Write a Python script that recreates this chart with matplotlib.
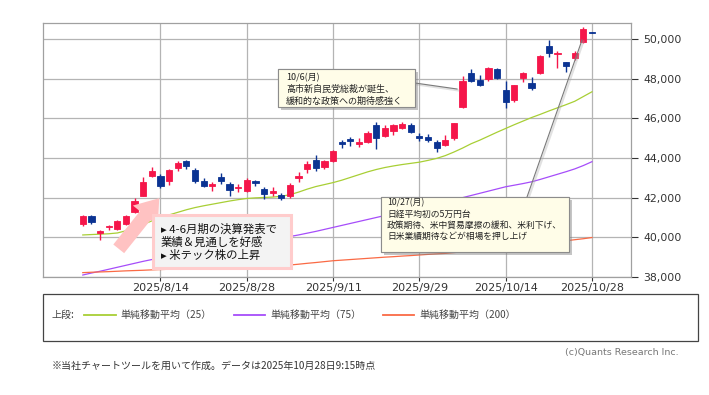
import matplotlib
matplotlib.use("Agg")
import matplotlib.pyplot as plt
from matplotlib.patches import Rectangle, FancyArrowPatch, ArrowStyle
from matplotlib.lines import Line2D
from matplotlib.ticker import FuncFormatter
import matplotlib.patheffects as pe

JP = ["Noto Sans CJK JP", "DejaVu Sans"]
plt.rcParams["font.family"] = ["DejaVu Sans", "Noto Sans CJK JP"]

# --- data ---
dates = ["7/31", "8/1", "8/4", "8/5", "8/6", "8/7", "8/8", "8/12", "8/13", "8/14",
         "8/15", "8/18", "8/19", "8/20", "8/21", "8/22", "8/25", "8/26", "8/27", "8/28",
         "8/29", "9/1", "9/2", "9/3", "9/4", "9/5", "9/8", "9/9", "9/10", "9/11",
         "9/12", "9/16", "9/17", "9/18", "9/19", "9/22", "9/24", "9/25", "9/26", "9/29",
         "9/30", "10/1", "10/2", "10/3", "10/6", "10/7", "10/8", "10/9", "10/10", "10/14",
         "10/15", "10/16", "10/17", "10/20", "10/21", "10/22", "10/23", "10/24", "10/27", "10/28"]
tick_dates = ["8/14", "8/28", "9/11", "9/29", "10/14", "10/28"]

opens = [40667, 41056, 40212, 40500, 40404, 40667, 41288, 42096, 43106, 43081,
         42823, 43495, 43864, 43409, 42823, 42601, 43025, 42687, 42470, 42318,
         42823, 42434, 42260, 42130, 42096, 42990, 43444, 43914, 43530, 43864,
         44803, 44954, 44717, 44813, 45658, 45116, 45370, 45490, 45658, 45100,
         45066, 44783, 44651, 44985, 46550, 48268, 47929, 47980, 48485, 47424,
         46919, 48015, 47793, 48268, 49646, 49227, 48823, 49025, 49865, 50330]
closes = [41086, 40783, 40328, 40580, 40823, 41086, 41843, 42772, 43359, 42592,
          43409, 43747, 43612, 42856, 42571, 42687, 42823, 42400, 42550, 42889,
          42722, 42182, 42340, 41965, 42636, 43076, 43697, 43480, 43864, 44369,
          44717, 44853, 44803, 45237, 45015, 45490, 45658, 45709, 45320, 45015,
          44900, 44480, 44904, 45743, 47878, 47880, 47677, 48552, 48015, 46834,
          47677, 48268, 47540, 49141, 49278, 49310, 48636, 49310, 50490, 50300]
highs = [41150, 41120, 40370, 40640, 40870, 41150, 41960, 43025, 43530, 43190,
         43440, 43860, 43900, 43480, 42970, 42770, 43225, 42770, 42690, 42970,
         42900, 42520, 42520, 42260, 42720, 43270, 43860, 44160, 43920, 44420,
         44910, 45040, 44990, 45380, 45830, 45660, 45710, 45830, 45760, 45250,
         45200, 44904, 45160, 45780, 48150, 48490, 48185, 48610, 48560, 47880,
         47700, 48350, 48090, 49210, 49950, 49390, 48850, 49400, 50590, 50330]
lows = [40560, 40660, 39870, 40370, 40370, 40640, 41210, 42090, 43030, 42470,
        42640, 43360, 43430, 42725, 42520, 42315, 42690, 42075, 42270, 42270,
        42570, 41930, 42100, 41880, 41980, 42810, 43260, 43330, 43440, 43820,
        44490, 44600, 44570, 44770, 44440, 45075, 45160, 45450, 45250, 44860,
        44790, 44280, 44620, 44930, 46500, 47810, 47645, 47900, 47980, 46500,
        46830, 47840, 47420, 48250, 49080, 48540, 48350, 48960, 49810, 50300]

sma25 = [40120, 40140, 40160, 40180, 40220, 40330, 40480, 40650, 40830, 40990,
         41130, 41260, 41390, 41500, 41590, 41670, 41750, 41830, 41900, 41960,
         41990, 42010, 42030, 42070, 42150, 42280, 42430, 42560, 42660, 42760,
         42880, 43020, 43160, 43300, 43420, 43520, 43600, 43670, 43730, 43790,
         43880, 43980, 44120, 44300, 44500, 44720, 44900, 45100, 45300, 45490,
         45680, 45860, 46040, 46200, 46370, 46530, 46690, 46860, 47100, 47340]
sma75 = [38100, 38200, 38290, 38390, 38490, 38590, 38690, 38790, 38880, 38960,
         39040, 39120, 39190, 39260, 39330, 39400, 39470, 39540, 39610, 39680,
         39750, 39820, 39890, 39960, 40040, 40120, 40210, 40300, 40400, 40500,
         40600, 40700, 40800, 40900, 41000, 41100, 41200, 41300, 41390, 41480,
         41580, 41680, 41780, 41890, 42000, 42110, 42220, 42330, 42440, 42550,
         42630, 42710, 42800, 42920, 43050, 43180, 43310, 43450, 43620, 43815]
sma200 = [38220, 38240, 38255, 38270, 38290, 38310, 38325, 38340, 38360, 38375,
          38390, 38410, 38425, 38440, 38455, 38470, 38485, 38500, 38515, 38530,
          38545, 38560, 38575, 38590, 38605, 38645, 38690, 38730, 38775, 38820,
          38850, 38880, 38910, 38940, 38970, 39000, 39025, 39055, 39080, 39110,
          39140, 39165, 39190, 39230, 39270, 39310, 39350, 39390, 39430, 39470,
          39510, 39555, 39600, 39650, 39700, 39760, 39830, 39880, 39930, 39990]

RED, BLUE = "#f5164a", "#0b3392"
C25, C75, C200 = "#a8cf35", "#a64dfa", "#fa6a45"
GRID, TXT = "#b4b4b4", "#333333"

W, H = 709, 395
fig = plt.figure(figsize=(W / 100, H / 100), dpi=100)
ax = fig.add_axes([43 / W, 1 - 277 / H, 588 / W, 254 / H])
ax.set_xlim(-4.61, 63.52)
ax.set_ylim(38000, 50807)

def px(x, y):
    # picture pixel -> data coords (used only to place the callouts)
    return (x - 82.8) / 8.63, 50000 - (y - 39) * 50.42

x = list(range(len(dates)))
ticks = [dates.index(d) for d in tick_dates]
ax.set_xticks(ticks)
ax.set_xticklabels(["2025/" + d for d in tick_dates], fontsize=8, color=TXT)
ax.set_yticks(range(38000, 50001, 2000))
ax.yaxis.set_major_formatter(FuncFormatter(lambda v, p: f"{v:,.0f}"))
ax.yaxis.tick_right()
ax.tick_params(axis="y", labelsize=7.8, colors=TXT, length=5, width=0.8, pad=4)
ax.tick_params(axis="x", length=3, width=0.8, pad=1.5, colors=TXT)
for t in ax.get_yticklines() + ax.get_xticklines():
    t.set_color("#a0a0a0")
ax.grid(True, color=GRID, lw=0.9)
ax.set_axisbelow(True)
for s in ax.spines.values():
    s.set_color("#a0a0a0"); s.set_linewidth(0.9)

ax.plot(x, sma25, color=C25, lw=0.9, zorder=2)
ax.plot(x, sma75, color=C75, lw=0.9, zorder=2)
ax.plot(x, sma200, color=C200, lw=0.9, zorder=2)

for i in x:
    o, c = opens[i], closes[i]
    col = RED if c >= o else BLUE
    ax.vlines(i, lows[i], highs[i], color=col, lw=1.0, zorder=3)
    ax.bar(i, abs(c - o), bottom=min(o, c), width=0.72, color=col, edgecolor=col, lw=0.6, zorder=4)

shadow = [pe.withSimplePatchShadow(offset=(2, -2), shadow_rgbFace="#808080", alpha=0.45), pe.Normal()]
lshadow = [pe.SimpleLineShadow(offset=(1, -1), shadow_color="#aaaaaa", alpha=0.35, linewidth=1.6), pe.Normal()]

# callout 10/6
x0, y0 = px(278, 107); x1, y1 = px(415, 69)
ax.add_patch(Rectangle((x0, y0), x1 - x0, y1 - y0, facecolor="#fffde8", edgecolor="#8c8c8c",
                       lw=0.8, zorder=6, path_effects=shadow))
ax.add_line(Line2D([px(415, 83)[0], px(457, 89)[0]], [px(415, 83)[1], px(457, 89)[1]],
                   color="#7a7a7a", lw=0.8, zorder=5, path_effects=lshadow))
for k, s in enumerate(["10/6(月)", "高市新自民党総裁が誕生、", "緩和的な政策への期待感強く"]):
    xt, yt = px(286, 78 + 11.5 * k)
    ax.text(xt, yt, s, fontsize=6.5, family=JP, color="#222222", va="center", ha="left", zorder=7)

# callout 10/27
x0, y0 = px(381, 252); x1, y1 = px(569, 197)
ax.add_patch(Rectangle((x0, y0), x1 - x0, y1 - y0, facecolor="#fffde8", edgecolor="#8c8c8c",
                       lw=0.8, zorder=6, path_effects=shadow))
ax.add_line(Line2D([px(527, 197)[0], px(582, 40)[0]], [px(527, 197)[1], px(582, 40)[1]],
                   color="#7a7a7a", lw=0.8, zorder=5, path_effects=lshadow))
for k, s in enumerate(["10/27(月)", "日経平均初の5万円台", "政策期待、米中貿易摩擦の緩和、米利下げ、",
                       "日米業績期待などが相場を押し上げ"]):
    xt, yt = px(387, 203 + 11 * k)
    ax.text(xt, yt, s, fontsize=6.3, family=JP, color="#222222", va="center", ha="left", zorder=7)

# pink arrow + box
ta, tb = px(117, 251), px(161, 196)
ax.add_patch(FancyArrowPatch(ta, tb, arrowstyle=ArrowStyle.Simple(head_length=0.8, head_width=1.15, tail_width=0.5),
                             mutation_scale=20, color="#ffc2c2", lw=0, zorder=5))
x0, y0 = px(153, 268); x1, y1 = px(291, 215)
ax.add_patch(Rectangle((x0, y0), x1 - x0, y1 - y0, facecolor="#f3f3f3", edgecolor="#ffcccc",
                       lw=2.2, zorder=6))
for k, s in enumerate(["▸ 4-6月期の決算発表で", "業績＆見通しを好感", "▸ 米テック株の上昇"]):
    xt, yt = px(161, 229 + 13 * k)
    ax.text(xt, yt, s, fontsize=8.2, family=JP, color="#111111", va="center", ha="left", zorder=7)

# legend panel
def fpt(xp, yp):
    return xp / W, 1 - yp / H
fig.add_artist(Rectangle(fpt(43, 341), 655 / W, 47 / H, transform=fig.transFigure,
                         facecolor="white", edgecolor="#444444", lw=0.9))
fig.text(*fpt(51, 315), "上段:", fontsize=7.2, family=JP, color="#444444", va="center")
for (xa, xb, xt, col, lab) in [(84, 116, 120, C25, "単純移動平均（25）"),
                               (234, 265, 270, C75, "単純移動平均（75）"),
                               (383, 414, 419, C200, "単純移動平均（200）")]:
    fig.add_artist(Line2D([xa / W, xb / W], [1 - 315 / H] * 2, color=col, lw=1.3))
    fig.text(*fpt(xt, 315), lab, fontsize=7.2, family=JP, color="#444444", va="center")

fig.text(*fpt(679, 352), "(c)Quants Research Inc.", fontsize=6.8, color="#777777", ha="right", va="center")
fig.text(*fpt(52, 366), "※当社チャートツールを用いて作成。データは2025年10月28日9:15時点",
         fontsize=7.2, family=JP, color="#333333", va="center")

fig.savefig("out.png", dpi=100)
